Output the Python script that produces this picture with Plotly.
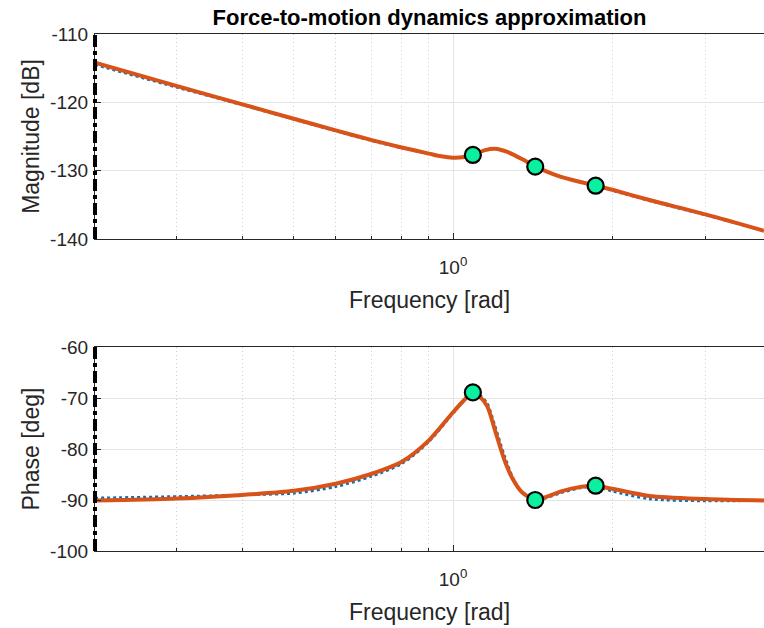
import math
import plotly.graph_objects as go

# ---------------- data ----------------
freq_mag = [0.2105, 0.3, 0.4, 0.5, 0.6, 0.7, 0.8, 0.9, 0.95, 1.0, 1.05, 1.09,
            1.15, 1.2, 1.27, 1.35, 1.43, 1.5, 1.6, 1.75, 1.86, 2.0, 2.35, 3.0, 3.87]
mag_model = [-114.2, -117.6, -120.3, -122.4, -124.1, -125.5, -126.6, -127.5, -127.9,
             -128.1, -128.0, -127.7, -127.0, -126.8, -127.3, -128.3, -129.4, -130.1,
             -130.9, -131.7, -132.2, -132.8, -134.3, -136.4, -138.8]
mag_meas = [-114.5, -117.8, -120.4, -122.5, -124.2, -125.6, -126.7, -127.5, -127.9,
            -128.1, -128.0, -127.7, -127.0, -126.8, -127.3, -128.3, -129.4, -130.1,
            -130.9, -131.7, -132.2, -132.9, -134.4, -136.5, -138.8]

freq_ph = [0.2105, 0.3, 0.4, 0.5, 0.6, 0.7, 0.8, 0.9, 1.0, 1.05, 1.09, 1.12, 1.16,
           1.2, 1.25, 1.3, 1.35, 1.43, 1.5, 1.6, 1.75, 1.86, 2.0, 2.35, 3.0, 3.87]
ph_model = [-90.1, -89.7, -89.0, -88.2, -86.8, -84.9, -82.5, -78.3, -72.8, -70.4,
            -68.9, -69.6, -71.6, -76.3, -82.1, -86.1, -88.5, -90.0, -89.4, -88.3,
            -87.4, -87.2, -87.8, -89.2, -89.8, -90.1]
ph_meas = [-89.6, -89.3, -89.0, -88.7, -87.4, -85.4, -82.9, -78.6, -73.0, -70.5,
           -68.9, -69.3, -71.0, -75.4, -81.2, -85.8, -88.6, -90.0, -89.6, -88.6,
           -87.6, -87.4, -88.3, -89.8, -90.2, -90.1]

freq_pts = [1.09, 1.43, 1.86]
mag_pts = [-127.7, -129.4, -132.2]
ph_pts = [-68.9, -90.0, -87.2]

x_lim = [0.2105, 3.87]
minor_ticks = [0.3, 0.4, 0.5, 0.6, 0.7, 0.8, 0.9, 2, 3]
mag_ticks = [-140, -130, -120, -110]
mag_labels = ["-140", "-130", "-120", "-110"]
ph_ticks = [-100, -90, -80, -70, -60]
ph_labels = ["-100", "-90", "-80", "-70", "-60"]

# ---------------- styles ----------------
BLUE = "#0072BD"
ORANGE = "#D95319"
GREEN = "#0AF0A0"
TXT = "#262626"
FONT = "Liberation Sans, Arial, Helvetica, sans-serif"

fig = go.Figure()

def add_panel(xa, ya, f, meas, model, fp, vp):
    fig.add_trace(go.Scatter(x=f, y=meas, mode="lines", xaxis=xa, yaxis=ya,
                             line=dict(color=BLUE, width=2.5, dash="dot", shape="spline", smoothing=0.8),
                             showlegend=False, hoverinfo="skip"))
    fig.add_trace(go.Scatter(x=f, y=model, mode="lines", xaxis=xa, yaxis=ya,
                             line=dict(color=ORANGE, width=4, shape="spline", smoothing=0.8),
                             showlegend=False))
    fig.add_trace(go.Scatter(x=fp, y=vp, mode="markers", xaxis=xa, yaxis=ya,
                             marker=dict(size=16, color=GREEN, line=dict(color="black", width=2.2)),
                             showlegend=False, cliponaxis=False))

add_panel("x", "y", freq_mag, mag_meas, mag_model, freq_pts, mag_pts)
add_panel("x2", "y2", freq_ph, ph_meas, ph_model, freq_pts, ph_pts)

H = 628
t_m, b_m = 34, 77
plot_h = H - t_m - b_m
top_dom = [(551.3 - 239.3) / plot_h, 1.0]
bot_dom = [0.0, (551.3 - 347.3) / plot_h]

def xaxis_cfg(anchor):
    return dict(
        type="log", range=[math.log10(x_lim[0]), math.log10(x_lim[1])], domain=[0, 1],
        anchor=anchor, tickvals=[1], ticktext=["10<sup>0</sup>"],
        ticks="inside", ticklen=6, tickcolor=TXT, tickwidth=1,
        showgrid=True, gridcolor="#e4e4e4", gridwidth=1,
        minor=dict(tickvals=minor_ticks, ticks="inside", ticklen=3, tickcolor=TXT,
                   showgrid=True, gridcolor="#cfcfcf", griddash="1px,3px", gridwidth=1),
        showline=True, linecolor=TXT, linewidth=1.2, mirror=True,
        zeroline=False, tickfont=dict(size=19, color=TXT, family=FONT),
        ticklabelstandoff=11,
        title=dict(text="Frequency [rad]", font=dict(size=23, color=TXT, family=FONT), standoff=14),
    )

def yaxis_cfg(anchor, dom, rng, tv, tt, title):
    return dict(
        domain=dom, anchor=anchor, range=rng, tickvals=tv, ticktext=tt,
        ticks="inside", ticklen=6, tickcolor=TXT,
        showgrid=True, gridcolor="#e4e4e4", gridwidth=1,
        showline=True, linecolor=TXT, linewidth=1.2, zeroline=False,
        tickfont=dict(size=19, color=TXT, family=FONT), ticklabelstandoff=2,
        title=dict(text=title, font=dict(size=23, color=TXT, family=FONT), standoff=4),
    )

fig.update_layout(
    width=764, height=H,
    margin=dict(l=95, r=0, t=t_m, b=b_m),
    paper_bgcolor="white", plot_bgcolor="white",
    font=dict(family=FONT, color=TXT),
    title=dict(text="<b>Force-to-motion dynamics approximation</b>",
               font=dict(size=22, color="black", family=FONT),
               x=0.5, xref="paper", xanchor="center",
               y=1 - 17 / H, yref="container", yanchor="middle"),
    xaxis=xaxis_cfg("y"),
    yaxis=yaxis_cfg("x", top_dom, [-140, -110], mag_ticks, mag_labels, "Magnitude [dB]"),
    xaxis2=xaxis_cfg("y2"),
    yaxis2=yaxis_cfg("x2", bot_dom, [-100, -60], ph_ticks, ph_labels, "Phase [deg]"),
)

for xr, yr in (("x domain", "y domain"), ("x2 domain", "y2 domain")):
    fig.add_shape(type="line", xref=xr, yref=yr, x0=0, x1=0, y0=0, y1=1,
                  line=dict(color="black", width=4, dash="dashdot"), layer="above")

fig.write_html("out.html")
